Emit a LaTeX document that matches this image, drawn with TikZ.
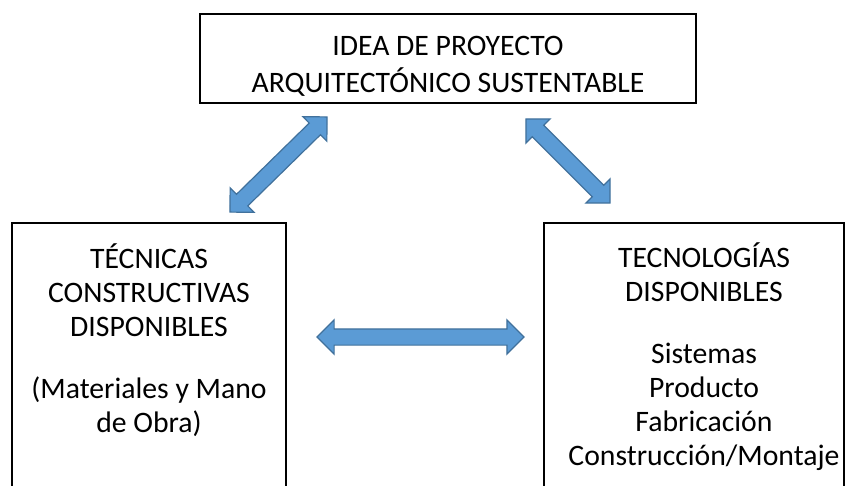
\documentclass[tikz,border=0pt]{standalone}
\usepackage{fontspec}
\setmainfont{Carlito}
\usetikzlibrary{shapes.arrows}
\definecolor{flecha}{HTML}{5B9BD5}
\definecolor{flechaborde}{HTML}{41719C}
\begin{document}
\begin{tikzpicture}[
		x=1pt, y=-1pt,
		caja/.style={draw, line width=1.2pt, rectangle, inner sep=0pt},
		texto/.style={align=center, anchor=north, inner sep=0pt, font=\fontsize{29.7}{34}\selectfont},
		flechadoble/.style={double arrow, fill=flecha, draw=flechaborde, line width=1.2pt,
			inner xsep=0pt, inner ysep=7.5pt, double arrow head extend=9, sloped}
		]
		
		\useasboundingbox (0,0) rectangle (848,485);
		\clip (0,0) rectangle (848,485);
		
		\node[caja, minimum width=496, minimum height=89] (idea) at (448,58.5) {};
		\node[caja, minimum width=274, minimum height=300] (tecnicas) at (149,373) {};
		\node[caja, minimum width=300, minimum height=300] (tecnologias) at (694,373) {};
		
		\node[texto, font=\fontsize{29.7}{35}\selectfont] (ideatxt) at (448,31) {\strut IDEA DE PROYECTO\\ARQUITECTÓNICO SUSTENTABLE};
		\node[texto] (tecnicastxt) at (149,243) {\strut TÉCNICAS\\CONSTRUCTIVAS\\DISPONIBLES\\[28pt](Materiales y Mano\\de Obra)};
		\node[texto] (tecnologiastxt) at (704,242) {\strut TECNOLOGÍAS\\DISPONIBLES\\[28pt]Sistemas\\Producto\\Fabricación\\Construcción/Montaje};
		
		\coordinate (izqA) at (230,212);
		\coordinate (izqB) at (327,117);
		\coordinate (derA) at (526,119);
		\coordinate (derB) at (610,203);
		\coordinate (horA) at (317,337);
		\coordinate (horB) at (524,337);
		
		\path (izqA) -- (izqB) node[flechadoble, midway, minimum height=136] (f1) {};
		\path (derA) -- (derB) node[flechadoble, midway, minimum height=119] (f2) {};
		\path (horA) -- (horB) node[flechadoble, midway, minimum height=207] (f3) {};
		
	\end{tikzpicture}
\end{document}
